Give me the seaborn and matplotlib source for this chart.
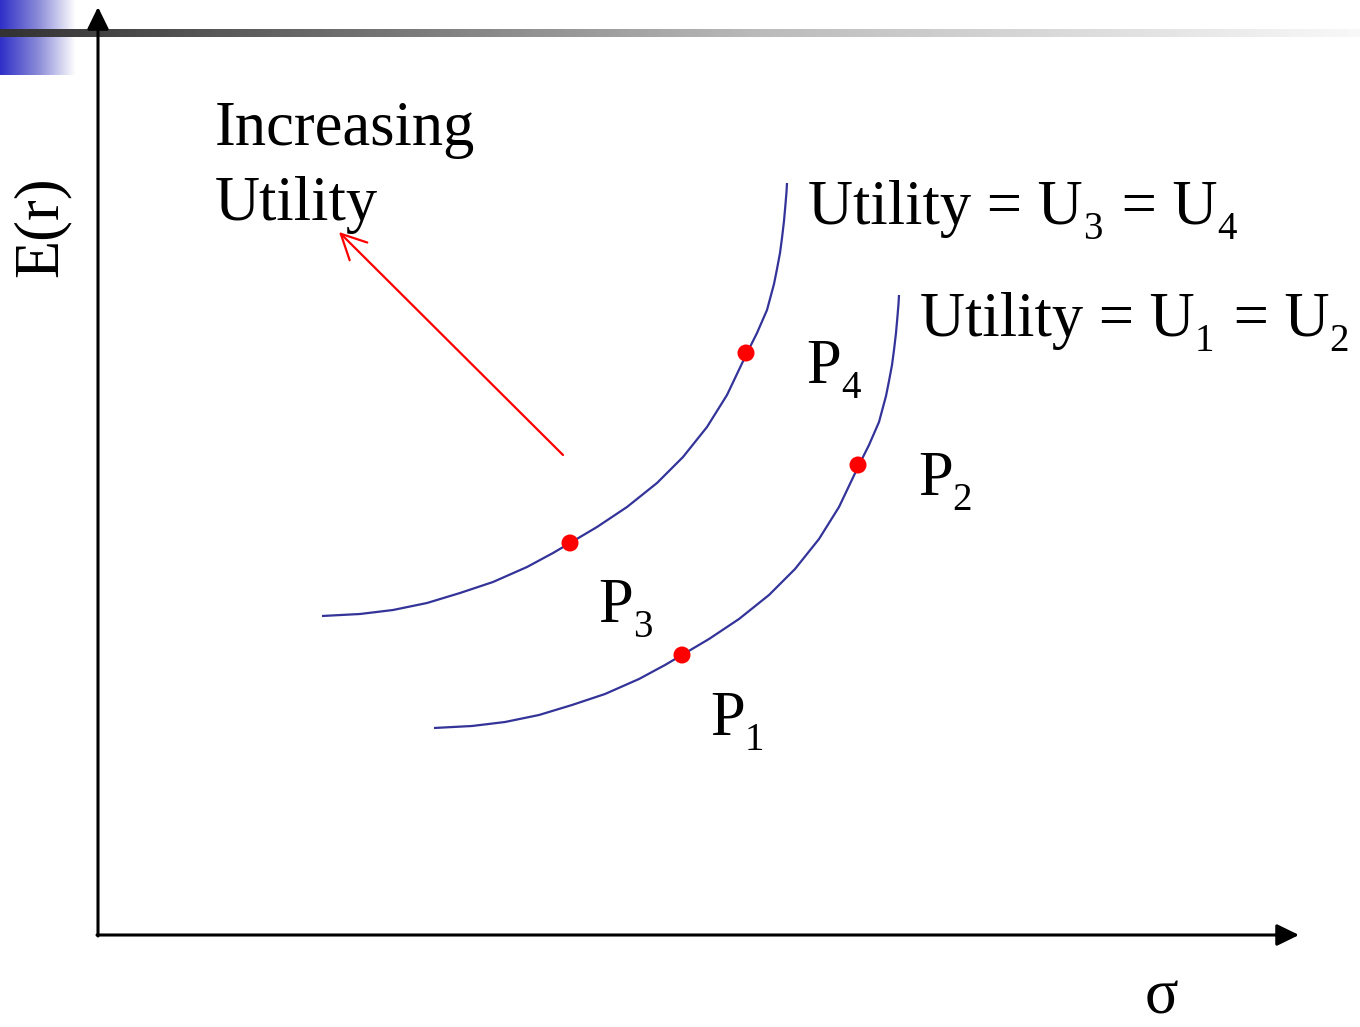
import seaborn as sns
import pandas as pd
import numpy as np
import matplotlib
matplotlib.use("Agg")
import matplotlib.pyplot as plt
from matplotlib.colors import LinearSegmentedColormap

sns.set_theme(style="white")
plt.rcParams['font.family'] = ['Liberation Serif', 'DejaVu Serif']
plt.rcParams['text.color'] = 'black'

# curves (pixel units, y downwards)
upper_x = [322, 360, 393, 427, 460, 493, 527, 553, 570, 597, 627, 657, 683, 707, 727,
           746, 757, 767, 774, 777, 780, 782, 784, 785.5, 786.5, 787]
upper_y = [616, 614, 610, 603, 593, 582, 567, 553, 543, 527, 507, 483, 457, 427, 395,
           355, 333, 310, 284, 269, 253, 238, 221, 204, 192, 183]
lower_x = [434, 472, 505, 539, 572, 605, 639, 665, 682, 709, 739, 769, 795, 819, 839,
           858, 869, 879, 886, 889, 892, 894, 896, 897.5, 898.5, 899]
lower_y = [728, 726, 722, 715, 705, 694, 679, 665, 655, 639, 619, 595, 569, 539, 507,
           467, 445, 422, 396, 381, 365, 350, 333, 316, 304, 295]

points = ['P1', 'P2', 'P3', 'P4']
point_x = [682, 858, 570, 746]
point_y = [655, 465, 543, 353]
point_names = ['P', 'P', 'P', 'P']
point_subs = ['1', '2', '3', '4']
label_x = [710, 918, 598, 806]
label_y = [735, 495, 622, 383]

curve_parts = [['Utility = U', '3', ' = U', '4'], ['Utility = U', '1', ' = U', '2']]
curve_label_x = [808, 920]
curve_label_y = [224, 336]

W, H = 1360, 1027
MAIN = 45
SUB = 28
DROP = 15

fig = plt.figure(figsize=(13.6, 10.27), dpi=100)
ax = fig.add_axes([0, 0, 1, 1])
ax.set_xlim(0, W)
ax.set_ylim(H, 0)
ax.axis('off')
renderer = fig.canvas.get_renderer()


def write_parts(x, y, parts):
    # alternate normal text and subscripts, left to right
    for i, s in enumerate(parts):
        sub = i % 2 == 1
        t = ax.text(x, y + (DROP if sub else 0), s, fontsize=SUB if sub else MAIN,
                    ha='left', va='baseline', color='black', zorder=5)
        bb = t.get_window_extent(renderer)
        x = ax.transData.inverted().transform((bb.x1, bb.y0))[0]
        if sub:
            x += 4


# slide decorations
blue = LinearSegmentedColormap.from_list('b', ['#3030c8', '#8a8ad8', '#ffffff'])
ax.imshow(np.linspace(0, 1, 100)[None, :], cmap=blue, extent=[0, 76, 75, 0], aspect='auto', zorder=0)
gray = LinearSegmentedColormap.from_list('g', [(0, '#333333'), (0.3, '#7a7a7a'), (0.56, '#bbbbbb'), (1, '#f8f8f8')])
ax.imshow(np.linspace(0, 1, 300)[None, :], cmap=gray, extent=[0, W, 37, 29], aspect='auto', zorder=1)

# axes with arrows
ax.annotate('', xy=(98, 7), xytext=(98, 936),
            arrowprops=dict(arrowstyle='-|>,head_length=0.45,head_width=0.22', color='black', lw=2.2,
                            mutation_scale=30, shrinkA=0, shrinkB=0), zorder=3)
ax.annotate('', xy=(1299, 935), xytext=(97, 935),
            arrowprops=dict(arrowstyle='-|>,head_length=0.45,head_width=0.22', color='black', lw=2.2,
                            mutation_scale=30, shrinkA=0, shrinkB=0), zorder=3)

df_up = pd.DataFrame({'x': upper_x, 'y': upper_y})
df_lo = pd.DataFrame({'x': lower_x, 'y': lower_y})
for d in (df_up, df_lo):
    sns.lineplot(data=d, x='x', y='y', ax=ax, color='#333399', lw=1.6, sort=False,
                 estimator=None, solid_joinstyle='round', solid_capstyle='butt')

df_pts = pd.DataFrame({'x': point_x, 'y': point_y, 'p': points})
sns.scatterplot(data=df_pts, x='x', y='y', ax=ax, color='#ff0000', s=150, edgecolor='none', zorder=4)
ax.set_xlim(0, W)
ax.set_ylim(H, 0)
ax.axis('off')

for name, sub, x, y in zip(point_names, point_subs, label_x, label_y):
    write_parts(x, y, [name, sub])
for parts, x, y in zip(curve_parts, curve_label_x, curve_label_y):
    write_parts(x, y, parts)

ax.text(215, 145, 'Increasing', fontsize=MAIN, ha='left', va='baseline')
ax.text(215, 220, 'Utility', fontsize=MAIN, ha='left', va='baseline')

# red arrow
ax.annotate('', xy=(339, 232), xytext=(563, 455),
            arrowprops=dict(arrowstyle='->,head_length=0.6,head_width=0.3', color='#ff0000', lw=1.6,
                            mutation_scale=30, shrinkA=0, shrinkB=0))

ax.text(42, 227, 'E(r)', fontsize=MAIN, rotation=90, ha='center', va='center')
ax.text(1161, 1013, 'σ', fontsize=MAIN, ha='center', va='baseline')

fig.savefig('out.png', dpi=100)
